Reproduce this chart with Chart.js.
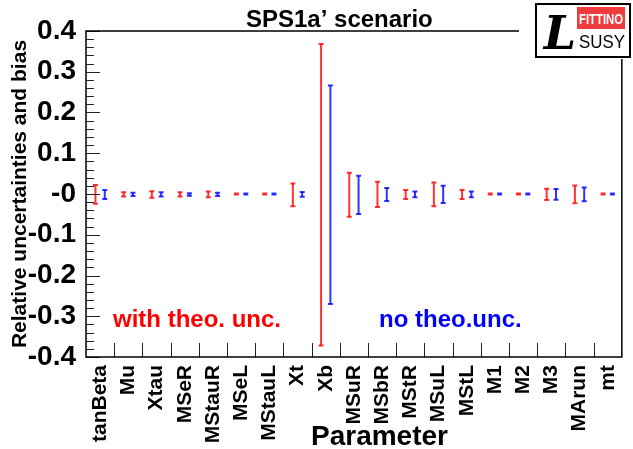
<!DOCTYPE html>
<html>
<head>
<meta charset="utf-8">
<script src="https://cdn.jsdelivr.net/npm/chart.js@4.4.0/dist/chart.umd.min.js"></script>
<style>
  html, body { margin: 0; padding: 0; background: #fff; }
  #wrap { width: 633px; height: 449px; }
</style>
</head>
<body>
<div id="wrap"><canvas id="fitChart" width="633" height="449"></canvas></div>
<script>
// Parameters of the SPS1a' fit
const parameters = ['tanBeta', 'Mu', 'Xtau', 'MSeR', 'MStauR', 'MSeL', 'MStauL', 'Xt', 'Xb', 'MSuR',
  'MSbR', 'MStR', 'MSuL', 'MStL', 'M1', 'M2', 'M3', 'MArun', 'mt'];
// relative uncertainty (half length of each bar)
const withTheoUnc = [0.023, 0.005, 0.008, 0.005, 0.007, 0.001, 0.001, 0.028, 0.370, 0.054,
  0.031, 0.011, 0.029, 0.011, 0.001, 0.001, 0.014, 0.022, 0.001];
const noTheoUnc = [0.011, 0.004, 0.005, 0.003, 0.004, 0.001, 0.001, 0.006, 0.268, 0.047,
  0.016, 0.007, 0.021, 0.007, 0.001, 0.001, 0.013, 0.017, 0.001];
// bias (centre of each bar)
const withTheoBias = [-0.001, -0.001, -0.001, -0.001, -0.001, 0, 0, -0.002, -0.002, -0.002,
  -0.001, -0.001, -0.001, -0.001, 0, 0, -0.001, -0.001, 0];
const noTheoBias = [-0.001, -0.001, -0.001, -0.001, -0.001, 0, 0, -0.001, -0.002, -0.002,
  -0.001, -0.001, -0.001, -0.001, 0, 0, -0.001, -0.001, 0];
const yTickLabels = ['-0.4', '-0.3', '-0.2', '-0.1', '-0', '0.1', '0.2', '0.3', '0.4'];

const FONT = "'Liberation Sans', Arial, Helvetica, sans-serif";
const RED = 'rgba(255, 0, 0, 0.8)';
const BLUE = 'rgba(0, 0, 255, 0.8)';

function toRange(bias, unc) {
  return bias.map((b, i) => [b - unc[i], b + unc[i]]);
}

// ROOT-like frame, inner ticks, caps, labels and logo
const rootStyle = {
  id: 'rootStyle',
  afterDatasetsDraw(chart) {
    const ctx = chart.ctx;
    ctx.save();
    chart.data.datasets.forEach((ds, di) => {
      const meta = chart.getDatasetMeta(di);
      ctx.strokeStyle = ds.backgroundColor;
      ctx.lineWidth = 2;
      meta.data.forEach(el => {
        const p = el.getProps(['x', 'y', 'base'], true);
        ctx.beginPath();
        ctx.moveTo(p.x - 2.5, p.y); ctx.lineTo(p.x + 2.5, p.y);
        ctx.moveTo(p.x - 2.5, p.base); ctx.lineTo(p.x + 2.5, p.base);
        ctx.stroke();
      });
    });
    ctx.restore();
  },
  afterDraw(chart) {
    const ctx = chart.ctx;
    const a = chart.chartArea;
    const xs = chart.scales.x;
    const ys = chart.scales.y;
    ctx.save();

    // inner ticks
    ctx.strokeStyle = '#222';
    ctx.lineWidth = 1;
    ctx.beginPath();
    for (let i = -20; i <= 20; i++) {
      const py = Math.round(ys.getPixelForValue(i * 0.02)) + 0.5;
      const len = i % 5 === 0 ? 14 : 8;
      ctx.moveTo(a.left, py); ctx.lineTo(a.left + len, py);
    }
    for (let i = 1; i < parameters.length; i++) {
      const px = Math.round((xs.getPixelForValue(i - 1) + xs.getPixelForValue(i)) / 2) + 0.5;
      ctx.moveTo(px, a.bottom); ctx.lineTo(px, a.bottom - 14);
    }
    ctx.stroke();

    // frame
    ctx.strokeStyle = '#000';
    ctx.lineWidth = 1.5;
    ctx.strokeRect(a.left, a.top, a.right - a.left, a.bottom - a.top);

    // texts
    ctx.textBaseline = 'alphabetic';
    ctx.textAlign = 'left';
    ctx.fillStyle = '#000';
    ctx.font = 'bold 24px ' + FONT;
    ctx.fillText("SPS1a\u2019 scenario", a.left + 160, a.top - 4);
    ctx.fillStyle = '#ff0000';
    ctx.fillText('with theo. unc.', a.left + 27, ys.getPixelForValue(-0.327));
    ctx.fillStyle = '#0000ff';
    ctx.fillText('no theo.unc.', a.left + 293, ys.getPixelForValue(-0.327));
    ctx.fillStyle = '#000';
    ctx.font = 'bold 28px ' + FONT;
    ctx.fillText('Parameter', a.left + 225, chart.height - 4);

    // logo
    ctx.fillStyle = '#fff';
    ctx.fillRect(519, 0, 114, 59);
    ctx.strokeStyle = '#000';
    ctx.lineWidth = 2;
    ctx.strokeRect(536, 4, 94, 53);
    ctx.fillStyle = '#f03c3c';
    ctx.fillRect(577, 7, 48, 22);
    ctx.fillStyle = '#fff';
    ctx.textAlign = 'center';
    ctx.font = 'bold 15px ' + FONT;
    ctx.fillText('FITTINO', 601, 24, 44);
    ctx.fillStyle = '#000';
    ctx.font = '18px ' + FONT;
    ctx.fillText('SUSY', 602, 48, 46);
    ctx.font = 'italic bold 46px "DejaVu Serif", serif';
    ctx.fillText('L', 560, 49);
    ctx.restore();
  }
};

const ctx = document.getElementById('fitChart').getContext('2d');
new Chart(ctx, {
  type: 'bar',
  data: {
    labels: parameters,
    datasets: [{
      label: 'with theo. unc.',
      data: toRange(withTheoBias, withTheoUnc),
      backgroundColor: RED,
      borderWidth: 0,
      categoryPercentage: 0.66,
      barPercentage: 1,
      maxBarThickness: 2
    }, {
      label: 'no theo.unc.',
      data: toRange(noTheoBias, noTheoUnc),
      backgroundColor: BLUE,
      borderWidth: 0,
      categoryPercentage: 0.66,
      barPercentage: 1,
      maxBarThickness: 2
    }]
  },
  options: {
    responsive: false,
    animation: false,
    layout: { padding: { top: 31, right: 2, bottom: 0, left: 0 } },
    plugins: {
      legend: { display: false },
      tooltip: { enabled: false }
    },
    scales: {
      x: {
        grid: { display: false },
        border: { display: false },
        ticks: {
          minRotation: 90,
          maxRotation: 90,
          autoSkip: false,
          padding: 0,
          color: '#000',
          font: { family: FONT, size: 21, weight: 'bold' }
        },
        afterFit: function(scale) { scale.height = 92; }
      },
      y: {
        min: -0.4,
        max: 0.4,
        grid: { display: false },
        border: { display: false },
        ticks: {
          stepSize: 0.1,
          autoSkip: false,
          padding: 2,
          color: '#000',
          font: { family: FONT, size: 28, weight: 'bold' },
          callback: function(value) {
            return yTickLabels[Math.round(value * 10) + 4];
          }
        },
        title: {
          display: true,
          text: 'Relative uncertainties and bias',
          color: '#000',
          font: { family: FONT, size: 21, weight: 'bold' },
          padding: { top: 8, bottom: 0 }
        },
        afterFit: function(scale) { scale.width = 86; }
      }
    }
  },
  plugins: [rootStyle]
});
</script>
</body>
</html>
